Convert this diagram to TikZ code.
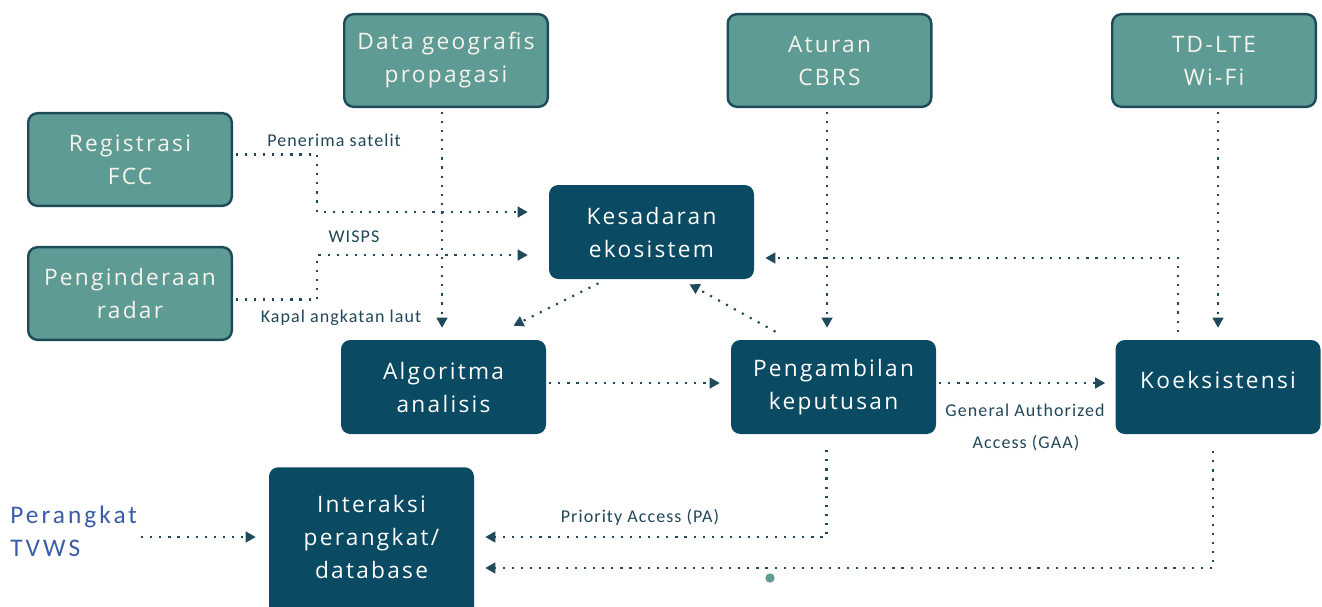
\documentclass[tikz,border=0pt]{standalone}
\usepackage{fontspec}
\setmainfont{Open Sans}
\newfontfamily\boxfam{Open Sans}[LetterSpace=10]
\newfontfamily\labelfont{Carlito}[LetterSpace=6]
\newfontfamily\devfont{Carlito}[LetterSpace=12]
\usetikzlibrary{arrows.meta,calc}
\definecolor{tealbox}{HTML}{5F9B95}
\definecolor{tealedge}{HTML}{1D4B57}
\definecolor{navybox}{HTML}{0A4A62}
\definecolor{boxtext}{HTML}{F6F4EA}
\definecolor{linkcol}{HTML}{1E4A5C}
\definecolor{lblcol}{HTML}{1F4759}
\definecolor{devblue}{HTML}{3A5CA6}
\begin{document}
\begin{tikzpicture}[x=0.75pt,y=-0.75pt,
  boxfont/.style={font=\boxfam\fontsize{17}{24.75}\selectfont},
  tealnode/.style={draw=tealedge, line width=1.8pt, fill=tealbox, rounded corners=7pt,
    minimum width=152.7pt, minimum height=69.5pt, text=boxtext, boxfont, align=center, inner sep=0pt},
  navynode/.style={fill=navybox, rounded corners=7pt, minimum width=153.75pt,
    minimum height=70.5pt, text=white, boxfont, align=center, inner sep=0pt},
  link/.style={draw=linkcol, line width=1.6pt, dash pattern=on 1.6pt off 5.2pt,
    -{Triangle[length=7.5pt,width=8pt]}},
  lbl/.style={text=lblcol, font=\labelfont\fontsize{13.5}{15}\selectfont, inner sep=0pt}]
\useasboundingbox (0,0) rectangle (1322,607);
\clip (0,0) rectangle (1322,607);

% input boxes
\node[tealnode] (reg)  at (130,159.5) {Registrasi\\FCC};
\node[tealnode] (rad)  at (130,293.5) {Penginderaan\\radar};
\node[tealnode] (geo)  at (446,60.5)  {Data geografis\\propagasi};
\node[tealnode] (cbrs) at (829.5,60.5) {Aturan\\CBRS};
\node[tealnode] (lte)  at (1214,60.5) {TD-LTE\\Wi-Fi};

% processing boxes
\node[navynode] (kes) at (651.5,232) {Kesadaran\\ekosistem};
\node[navynode] (alg) at (443.5,387) {Algoritma\\analisis};
\node[navynode] (pen) at (833.5,387) {Pengambilan\\keputusan};
\node[navynode, text depth=10pt] (koe) at (1218,387) {Koeksistensi};
\node[navynode, minimum height=120pt, anchor=north] (inter) at (371.5,467) {};
\node[text=white, boxfont, align=center, inner sep=0pt] (intertxt) at (371.5,537)
  {Interaksi\\perangkat/\\database};

% device label
\node[text=devblue, font=\devfont\fontsize{19}{24.5}\selectfont, align=left,
  anchor=west, inner sep=0pt] (tvws) at (10,531) {Perangkat\\TVWS};

% connector labels
\node[lbl] (lsat)  at (334,140) {Penerima satelit};
\node[lbl] (lwisp) at (354,237) {WISPS};
\node[lbl] (lkap)  at (341,318) {Kapal angkatan laut};
\node[lbl] (lgaa1) at (1025,410) {General Authorized};
\node[lbl] (lgaa2) at (1026,443) {Access (GAA)};
\node[lbl] (lpa)   at (640,517) {Priority Access (PA)};

% connectors
\draw[link] ($(reg.east)+(3,-5)$) -- ++(81,0) |- ($(kes.west)+(-21,-20)$);
\draw[link] ($(rad.east)+(3,6)$) -- ++(81,0) |- ($(kes.west)+(-21,23)$);
\draw[link] ($(geo.south)+(-4,4)$) -- ($(alg.north)+(-1.5,-12)$);
\draw[link] ($(cbrs.south)+(-2.5,4)$) -- ($(pen.north)+(-6.5,-12)$);
\draw[link] ($(lte.south)+(4,4)$) -- ($(koe.north)+(0,-12)$);
\draw[link] ($(kes.south)+(-53,4)$) -- ($(alg.north)+(70,-14)$);
\draw[link] ($(pen.north)+(-58,-8)$) -- ($(kes.south)+(38,5)$);
\draw[link] ($(koe.north)+(-40,-8)$) |- ($(kes.east)+(11,26)$);
\draw[link] ($(alg.east)+(3,-4)$) -- ($(pen.west)+(-11,-4)$);
\draw[link] ($(pen.east)+(3,-4)$) -- ($(koe.west)+(-10,-4)$);
\draw[link] ($(pen.south)+(-7,16)$) |- ($(inter.north east)+(11,70)$);
\draw[link] ($(koe.south)+(-5,17)$) |- ($(inter.north east)+(11,101)$);
\draw[link] ($(tvws.east)+(4,6)$) -- ($(inter.west |- tvws.east)+(-13,6)$);

% marker dot on the lower return path
\node[circle, fill=tealbox, inner sep=0pt, minimum size=7pt] (mark) at (770,578) {};
\end{tikzpicture}
\end{document}
